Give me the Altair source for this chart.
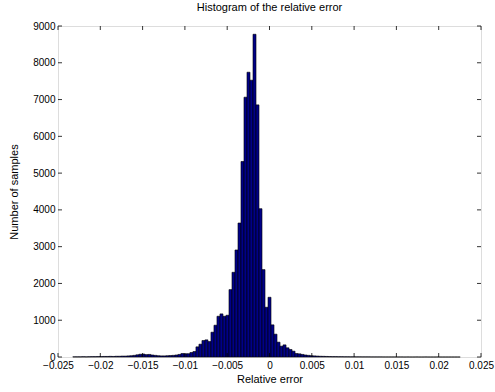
import altair as alt
import pandas as pd
import numpy as np

# Histogram counts, bins of equal width
counts = [5, 5, 5, 8, 5, 8, 10, 10, 12, 12,
          15, 15, 18, 15, 20, 20, 25, 25, 30, 35,
          45, 60, 75, 80, 65, 70, 55, 45, 35, 30,
          30, 35, 40, 45, 55, 70, 95, 88, 90, 122,
          149, 276, 348, 448, 466, 420, 674, 864, 1108, 1172,
          1108, 1135, 1832, 2303, 2910, 3643, 5316, 7064, 7743, 7526,
          8775, 6855, 4032, 2376, 1352, 1624, 874, 620, 403, 294,
          330, 250, 204, 158, 95, 86, 70, 55, 45, 35,
          30, 25, 20, 18, 15, 12, 10, 10, 8, 8,
          6, 6, 5, 5, 4, 4, 3, 3, 3, 2,
          2, 2, 2, 1, 1, 1, 1, 1, 1, 1,
          0, 1, 0, 0, 1, 0, 0, 1, 0, 0,
          0, 1, 0, 0, 0, 0, 0, 0, 0]
range_start = -0.02325
bin_width = 0.000355

x_ticks = [-0.025, -0.02, -0.015, -0.01, -0.005, 0, 0.005, 0.01, 0.015, 0.02, 0.025]
y_ticks = [0, 1000, 2000, 3000, 4000, 5000, 6000, 7000, 8000, 9000]

edges = range_start + bin_width * np.arange(len(counts) + 1)
df = pd.DataFrame({"x0": edges[:-1], "x1": edges[1:], "n": counts})

W, H = 423, 331
FONT = "Liberation Sans"

xs = alt.Scale(domain=[-0.025, 0.025], nice=False, zero=False)
ys = alt.Scale(domain=[0, 9000], nice=False)

axX = alt.Axis(values=x_ticks, format="~g", labelFlush=False, labelOverlap=False,
               tickSize=0, domain=False, grid=False, labelPadding=3,
               labelFontSize=10, labelFont=FONT, labelColor="black",
               titleFont=FONT, titleFontSize=11, titleFontWeight="normal",
               titleColor="black", titlePadding=3)
axY = alt.Axis(values=y_ticks, format="d", tickSize=0, domain=False, grid=False,
               labelOverlap=False, labelFlush=False,
               labelPadding=3, labelFontSize=10, labelFont=FONT, labelColor="black",
               titleFont=FONT, titleFontSize=11, titleFontWeight="normal",
               titleColor="black", titlePadding=13)
XT, YT = "Relative error", "Number of samples"

bars = alt.Chart(df).mark_rect(fill="#000088", stroke="black", strokeWidth=0.6).encode(
    x=alt.X("x0:Q", scale=xs, title=XT, axis=axX),
    x2="x1:Q",
    y=alt.Y("n:Q", scale=ys, title=YT, axis=axY),
    y2=alt.datum(0),
)

xt = pd.DataFrame({"t": x_ticks})
yt = pd.DataFrame({"t": y_ticks})
tk = dict(color="black", strokeWidth=0.8)
x_bot = alt.Chart(xt).mark_rule(**tk).encode(x=alt.X("t:Q", scale=xs, title=XT, axis=axX), y=alt.value(H), y2=alt.value(H - 4))
x_top = alt.Chart(xt).mark_rule(**tk).encode(x=alt.X("t:Q", scale=xs, title=XT, axis=axX), y=alt.value(0), y2=alt.value(4))
y_left = alt.Chart(yt).mark_rule(**tk).encode(y=alt.Y("t:Q", scale=ys, title=YT, axis=axY), x=alt.value(0), x2=alt.value(4))
y_right = alt.Chart(yt).mark_rule(**tk).encode(y=alt.Y("t:Q", scale=ys, title=YT, axis=axY), x=alt.value(W - 4), x2=alt.value(W))

chart = alt.layer(bars, x_bot, x_top, y_left, y_right).properties(
    width=W, height=H,
    title=alt.TitleParams("Histogram of the relative error", font=FONT, fontSize=11,
                          fontWeight="normal", color="black", offset=8),
    autosize=alt.AutoSizeParams(type="none"),
    padding={"left": 58, "top": 26, "right": 14, "bottom": 35},
).configure_view(stroke="black", strokeWidth=1).configure(background="white")

chart.save("out.html", embed_options={"renderer": "svg", "actions": False})
